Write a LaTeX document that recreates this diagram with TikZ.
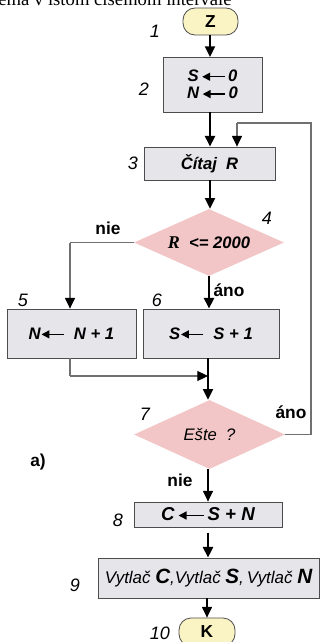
\documentclass[tikz,border=0pt]{standalone}
\usepackage{fontspec}
\setmainfont{Liberation Serif}
\setsansfont{Liberation Sans}
\usetikzlibrary{shapes.geometric,arrows.meta}
\definecolor{boxgray}{HTML}{E6E6EA}
\definecolor{dpink}{HTML}{F2C6C6}
\definecolor{tyellow}{HTML}{FAF4C4}
\definecolor{lgray}{HTML}{707070}
\newcommand{\larr}{\tikz[baseline=-0.55ex]\draw[-{Triangle[length=6pt,width=6pt]},line width=1.1pt] (1.35em,0)--(0,0);}
\begin{document}
\begin{tikzpicture}[x=0.75pt,y=-0.75pt,
  every node/.style={font=\sffamily},
  box/.style={draw=black!70,line width=0.6pt,fill=boxgray,inner sep=0pt,font=\sffamily\bfseries\itshape\fontsize{12.5}{13}\selectfont},
  dec/.style={diamond,aspect=2.2,draw=none,fill=dpink,inner sep=0pt,font=\sffamily\bfseries\itshape\fontsize{12.5}{14}\selectfont},
  term/.style={draw=black!70,line width=0.6pt,fill=tyellow,rounded corners=9pt,inner sep=0pt,font=\sffamily\bfseries\fontsize{13}{15}\selectfont},
  num/.style={font=\sffamily\itshape\fontsize{13.5}{15}\selectfont},
  lab/.style={font=\sffamily\bfseries\fontsize{13}{15}\selectfont},
  mainarr/.style={draw=black,line width=1.5pt,-{Triangle[length=8pt,width=7.5pt]}},
  thinarr/.style={draw=black,line width=0.8pt,-{Triangle[length=8pt,width=7.5pt]}},
  grayarr/.style={draw=lgray,line width=0.8pt,-{Triangle[length=8pt,width=7.5pt,fill=black,color=black]}},
  grayline/.style={draw=lgray,line width=0.8pt}]
\useasboundingbox (0,0) rectangle (320,642);
\node[font=\rmfamily\fontsize{14}{16}\selectfont,anchor=base west,inner sep=0pt] (title) at (-2,6) {ema v istom číselnom intervale};
% nodes
\node[term,minimum width=41.25pt,minimum height=20.25pt] (z) at (210.5,21.5) {Z};
\node[box,minimum width=74.25pt,minimum height=41.25pt,align=center] (b2) at (212.5,84.5) {S\,\larr\,0\\N\,\larr\,0};
\node[box,minimum width=98.25pt,minimum height=24.75pt] (b3) at (209.5,163.5) {Čítaj\ \ R};
\node[dec,minimum width=112.5pt,minimum height=50.25pt] (d4) at (209,242.5) {{\rmfamily\fontsize{13.5}{14}\selectfont R}\ \ <= 2000};
\node[box,minimum width=96.75pt,minimum height=36.75pt] (b5) at (71.5,333.5) {N\larr\ \ N + 1};
\node[box,minimum width=102pt,minimum height=36.75pt] (b6) at (211,333.5) {S\larr\ \ S + 1};
\node[dec,minimum width=113.25pt,minimum height=51.75pt,font=\sffamily\itshape\fontsize{12.5}{14}\selectfont] (d7) at (209.5,434.5) {Ešte\ \ ?};
\node[box,minimum width=111pt,minimum height=18.75pt,font=\sffamily\bfseries\itshape\fontsize{14}{15}\selectfont] (b8) at (208,514.5) {C\,\larr\,S + N};
\node[box,minimum width=165.75pt,minimum height=30pt,font=\sffamily\itshape\fontsize{12.7}{13}\selectfont] (b9) at (208.5,578) {Vytlač {\bfseries\fontsize{15.5}{15}\selectfont C},Vytlač {\bfseries\fontsize{15.5}{15}\selectfont S},\,Vytlač {\bfseries\fontsize{15.5}{15}\selectfont N}};
\node[term,minimum width=42pt,minimum height=21pt] (k) at (207,632) {K};
% step numbers
\node[num] (n1) at (155,31) {1};
\node[num] (n2) at (144,89) {2};
\node[num] (n3) at (133,163) {3};
\node[num] (n4) at (267,218) {4};
\node[num] (n5) at (23,300) {5};
\node[num] (n6) at (157,300) {6};
\node[num] (n7) at (145,414) {7};
\node[num] (n8) at (118,520) {8};
\node[num] (n9) at (75,585) {9};
\node[num] (n10) at (160,633) {10};
% labels
\node[lab] (l4n) at (108,228) {nie};
\node[lab] (l4a) at (229,290) {áno};
\node[lab] (l7a) at (291,412) {áno};
\node[lab] (l7n) at (180,480) {nie};
\node[lab] (la) at (38,462) {a)};
% helper coordinates
\coordinate (fbA) at (311,434.5);
\coordinate (fbB) at (311,123);
\coordinate (fbC) at (237,123);
\coordinate (lft) at (70,242.5);
\coordinate (m5) at (70,376);
\coordinate (m6) at (208,376);
% connectors
\draw[mainarr] (z.south -| 210,0) -- (210,57);
\draw[mainarr] (b2.south -| 210,0) -- (b3.north -| 210,0);
\draw[grayline] (d7.east) -- (fbA) -- (fbB) -- (fbC);
\draw[grayarr] (fbC) -- (fbC |- b3.north);
\draw[mainarr] (b3.south -| 210,0) -- (d4.north -| 210,0);
\draw[grayline] (d4.west) -- (lft);
\draw[grayarr] (lft) -- (lft |- b5.north);
\draw[mainarr] (d4.south -| 209,0) -- (b6.north -| 209,0);
\draw[grayline] (b5.south -| 70,0) -- (m5);
\draw[grayarr] (m5) -- (m6);
\draw[mainarr] (b6.south -| 208,0) -- (d7.north -| 208,0);
\draw[thinarr] (d7.south -| 208,0) -- (b8.north -| 208,0);
\draw[mainarr,shorten <=4pt] (b8.south -| 208,0) -- (b9.north -| 208,0);
\draw[thinarr] (b9.south -| 207,0) -- (k.north -| 207,0);
\end{tikzpicture}
\end{document}
